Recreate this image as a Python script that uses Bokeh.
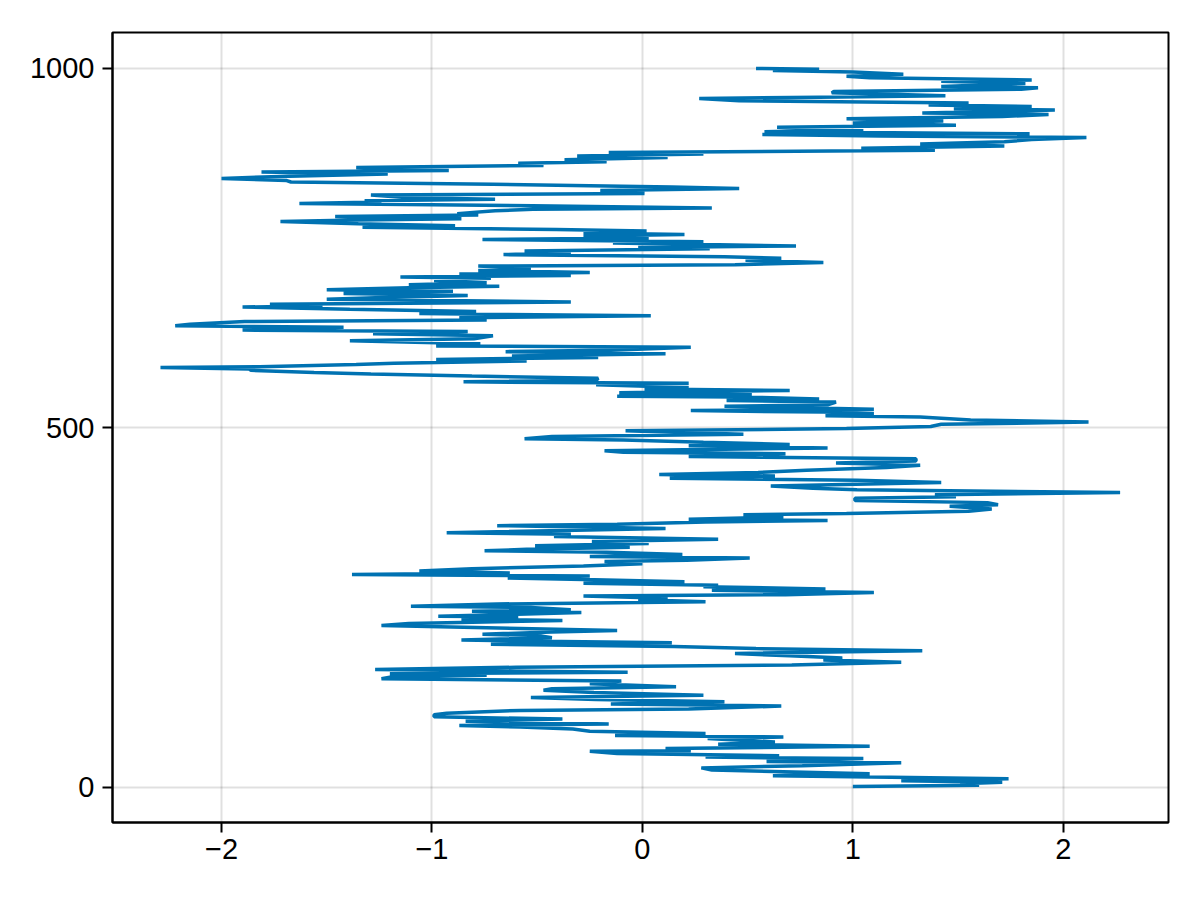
from bokeh.plotting import figure
from bokeh.models import Range1d, FixedTicker
from bokeh.embed import file_html
from bokeh.resources import INLINE

# (step, value) pairs, bottom (step 1) to top (step 1000)
samples = [
    (1, 1.0), (3, 1.6), (5, 1.51), (7, 1.71), (9, 1.23), (10, 1.45), (12, 1.74), (16, 0.62),
    (19, 1.08), (24, 0.33), (27, 0.28), (30, 0.76), (34, 1.23), (36, 0.59), (40, 1.05),
    (42, 0.30), (44, 0.65), (47, -0.12), (50, -0.25), (51, 0.23), (54, 0.11), (57, 1.08),
    (60, 0.36), (63, 0.63),
    (68, 0.31), (70, 0.67), (72, -0.13), (75, 0.30), (78, -0.25), (81, -0.33), (84, -0.58),
    (86, -0.87), (88, -0.16), (92, -0.84), (95, -0.38), (98, -0.99), (101, -0.99), (103, -0.93),
    (107, -0.58), (109, 0.22), (113, 0.66), (116, -0.15), (119, 0.39), (122, -0.22),
    (125, -0.53), (128, 0.29),
    (132, -0.23), (135, -0.47), (137, -0.43), (140, 0.16), (144, -0.25), (148, -0.10),
    (151, -1.24), (153, -1.20), (156, -0.74), (158, -1.20), (160, -0.07), (164, -1.27),
    (167, -0.60), (170, 0.71), (174, 1.23), (177, 0.86), (180, 0.95), (183, 0.70), (186, 0.44),
    (188, 0.81), (190, 1.33), (193, 0.54), (196, 0.15), (199, -0.72), (201, 0.14), (203, -0.49),
    (205, -0.86), (208, -0.43), (211, -0.49), (213, -0.76), (216, -0.43), (218, -0.12),
    (222, -0.74), (225, -1.24),
    (228, -1.11), (232, -0.38), (234, -0.86), (237, -0.59), (238, -0.97), (240, -0.69),
    (243, -0.29), (245, -0.81), (247, -0.34), (250, -0.53), (252, -1.10), (255, -0.69),
    (258, 0.30), (261, -0.02), (263, 0.12), (266, -0.28), (268, 0.68), (271, 1.10), (274, 0.33),
    (276, 0.87), (279, 0.29), (281, 0.36), (284, -0.28), (286, 0.20), (289, -0.28), (291, -0.64),
    (294, -0.25), (296, -1.38), (298, -0.63), (301, -1.06), (304, -0.81), (308, -0.28),
    (311, 0.0), (314, -0.18), (316, 0.21), (319, 0.51), (321, -0.25), (324, 0.19),
    (327, -0.17), (329, -0.75), (331, -0.55), (334, -0.06), (336, -0.51), (339, 0.03),
    (342, -0.24), (345, 0.36), (349, -0.42), (352, -0.34), (354, -0.93), (357, -0.44),
    (360, 0.11), (364, -0.69), (366, -0.12), (369, 0.30), (371, 0.88), (373, 0.22), (376, 0.67),
    (379, 0.48), (381, 0.97), (384, 1.55), (387, 1.66), (391, 1.46), (393, 1.69), (396, 1.64),
    (399, 1.01), (402, 1.01), (404, 1.49), (407, 1.39), (410, 2.27), (414, 1.02), (416, 0.81),
    (419, 0.61),
    (424, 1.42), (427, 1.02), (430, 0.13), (433, 0.63), (435, 0.08), (438, 0.55), (441, 0.78),
    (445, 1.16), (448, 1.32), (451, 0.92), (454, 1.30), (457, 1.30), (460, 0.22), (464, 0.68),
    (466, -0.09), (468, -0.18), (472, 0.88), (475, 0.22), (477, 0.70), (480, 0.29), (483, -0.09),
    (485, -0.56), (488, -0.43), (491, 0.48), (494, 0.15), (496, -0.08), (499, 0.97), (502, 1.37),
    (505, 1.42), (508, 2.12), (511, 1.56), (515, 1.32), (517, 0.87), (520, 1.10),
    (522, 0.86), (524, 0.23), (526, 1.10), (530, 0.39), (532, 0.88), (536, 0.92), (538, 0.40),
    (540, 0.84), (543, 0.46), (544, -0.12), (546, 0.52), (549, -0.11), (552, 0.70), (554, 0.01),
    (556, 0.22), (560, -0.22), (562, 0.22), (564, -0.85), (566, -0.22), (569, -0.21),
    (572, -0.81), (575, -1.29), (577, -1.56), (580, -1.86), (582, -1.87), (584, -2.29),
    (585, -1.82), (588, -1.36), (590, -1.18), (593, -0.55), (595, -0.98), (598, -0.21),
    (600, -0.62), (603, 0.11), (606, -0.65), (608, -0.15), (612, 0.23), (614, -0.98),
    (617, -0.77),
    (621, -1.39), (624, -0.80), (628, -0.71), (631, -1.28), (634, -0.83), (636, -1.90),
    (640, -1.42), (642, -2.22), (644, -2.15), (648, -1.89), (650, -0.74), (653, -0.87),
    (656, 0.04), (659, -1.06), (662, -0.79), (665, -1.39), (668, -1.90), (670, -1.52),
    (672, -1.77), (675, -0.34), (679, -1.50), (681, -1.27), (684, -0.83), (687, -1.42),
    (690, -0.90), (692, -1.50), (695, -1.11), (697, -0.68), (699, -1.11), (702, -0.74),
    (705, -0.99), (708, -0.72), (710, -1.15), (712, -0.34),
    (714, -0.87), (716, -0.25), (719, -0.78), (722, -0.53), (725, -0.78), (727, 0.44),
    (730, 0.86), (733, 0.49), (736, 0.66), (738, 0.39), (741, -0.66), (744, -0.34), (746, -0.56),
    (749, 0.32), (751, -0.02), (753, 0.73), (757, -0.14), (759, 0.29), (762, -0.76), (764, 0.03),
    (767, -0.28), (769, 0.20), (771, -0.28), (774, 0.02), (776, -0.41), (779, -1.33),
    (781, -0.89), (784, -1.35), (787, -1.72), (789, -1.35), (791, -0.86), (794, -1.46),
    (796, -0.78), (798, -0.88), (802, -0.70), (804, -0.52), (806, 0.33), (809, -0.52),
    (812, -1.63),
    (814, -1.24), (816, -1.32), (818, -0.70), (820, -1.11), (824, -1.29), (826, 0.01),
    (830, -0.20), (833, 0.46), (835, 0.14), (839, -0.71), (842, -1.67), (844, -1.69),
    (847, -2.00), (850, -1.68), (853, -1.21), (856, -1.81), (858, -0.92), (862, -1.36),
    (865, -0.47), (868, -0.59), (870, -0.17), (873, -0.37), (876, 0.12), (878, -0.31),
    (881, 0.29), (883, -0.16), (886, 1.39), (889, 1.04), (892, 1.72), (895, 1.32), (898, 1.72),
    (901, 1.85), (904, 2.11), (906, 1.13),
    (908, 0.57), (909, 1.84), (912, 0.58), (915, 1.05), (918, 0.64), (921, 1.49), (924, 1.00),
    (927, 1.43), (930, 0.97), (933, 1.71), (936, 1.93), (938, 1.33), (942, 1.96), (944, 1.48),
    (947, 1.85), (949, 1.36), (952, 1.55), (955, 0.46), (958, 0.27), (960, 0.84), (962, 1.44),
    (966, 0.90), (968, 0.91), (971, 1.80), (973, 1.88), (975, 1.42), (979, 1.82), (982, 1.42),
    (984, 1.85), (987, 1.08), (989, 0.97), (992, 1.24), (995, 1.00), (997, 0.62), (999, 0.84),
    (1000, 0.54),
]

x_ticks = [-2, -1, 0, 1, 2]
x_tick_labels = ["\u22122", "\u22121", "0", "1", "2"]
y_ticks = [0, 500, 1000]
y_tick_labels = ["0", "500", "1000"]

samples = sorted(samples)
step = [s[0] for s in samples]
value = [s[1] for s in samples]

p = figure(
    frame_width=1056, frame_height=790,
    min_border_left=112, min_border_right=24, min_border_top=32, min_border_bottom=70,
    output_backend="svg", toolbar_location=None,
    x_range=Range1d(-2.518, 2.5), y_range=Range1d(-48.95, 1049.95),
)
p.background_fill_color = "white"
p.border_fill_color = "white"
p.outline_line_color = "black"
p.outline_line_width = 2

p.line(value, step, line_color="#0072B2", line_width=3.5)

p.xaxis.ticker = FixedTicker(ticks=x_ticks)
p.yaxis.ticker = FixedTicker(ticks=y_ticks)
p.xaxis.major_label_overrides = dict(zip(x_ticks, x_tick_labels))
p.yaxis.major_label_overrides = dict(zip(y_ticks, y_tick_labels))

for ax in (p.xaxis, p.yaxis):
    ax.axis_line_color = "black"
    ax.axis_line_width = 2
    ax.major_tick_line_color = "black"
    ax.major_tick_line_width = 2
    ax.major_tick_out = 10
    ax.major_tick_in = 0
    ax.minor_tick_line_color = None
    ax.major_label_text_font = "Liberation Sans"
    ax.major_label_text_font_size = "29px"
    ax.major_label_text_color = "black"
p.xaxis.major_label_standoff = 6
p.yaxis.major_label_standoff = 8

for g in (p.xgrid, p.ygrid):
    g.grid_line_color = "black"
    g.grid_line_alpha = 0.12
    g.grid_line_width = 2

open("out.html", "w").write(file_html(p, INLINE))
